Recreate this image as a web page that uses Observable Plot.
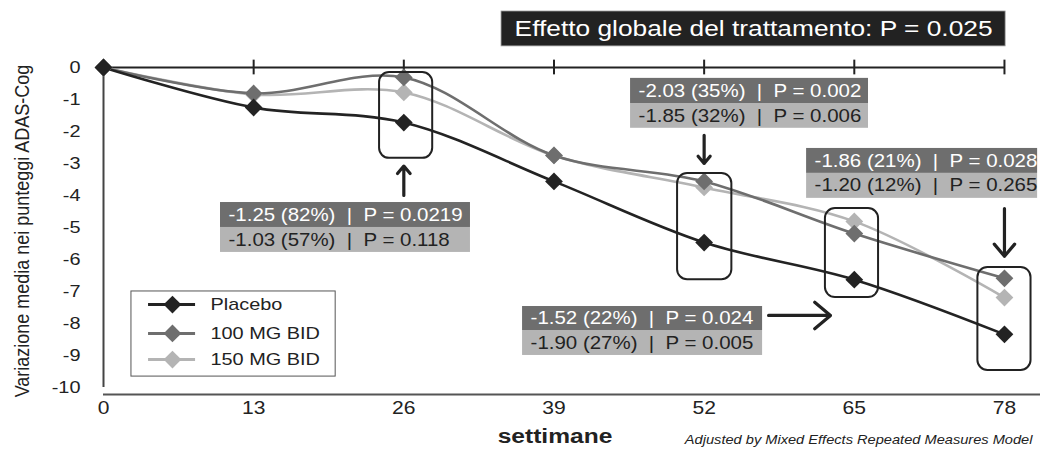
<!DOCTYPE html>
<html>
<head>
<meta charset="utf-8">
<script src="https://cdn.jsdelivr.net/npm/d3@7"></script>
<script src="https://cdn.jsdelivr.net/npm/@observablehq/plot@0.6"></script>
<style>
  html, body { margin: 0; padding: 0; background: #fff; }
  #chart { width: 1043px; height: 452px; }
</style>
</head>
<body>
<div id="chart"></div>
<script>
// ---------- data ----------
const weeks = [0, 13, 26, 39, 52, 65, 78];
const placebo = [0, -1.25, -1.72, -3.56, -5.47, -6.63, -8.34];
const mg100   = [0, -0.81, -0.31, -2.75, -3.56, -5.19, -6.59];
const mg150   = [0, -0.84, -0.78, -2.75, -3.75, -4.81, -7.19];
const seriesNames = ["Placebo", "100 MG BID", "150 MG BID"];
const yTickValues = [0, -1, -2, -3, -4, -5, -6, -7, -8, -9, -10];
const xTickValues = weeks;

const titleText = "Effetto globale del trattamento: P = 0.025";
const yLabelText = "Variazione media nei punteggi ADAS-Cog";
const xLabelText = "settimane";
const captionText = "Adjusted by Mixed Effects Repeated Measures Model";

const SP = "\u00a0";
const annotDark = [
  `-1.25 (82%)${SP}${SP}|${SP}${SP}P = 0.0219`,
  `-2.03 (35%)${SP}${SP}|${SP}${SP}P = 0.002`,
  `-1.86 (21%)${SP}${SP}|${SP}${SP}P = 0.028`,
  `-1.52 (22%)${SP}${SP}|${SP}${SP}P = 0.024`
];
const annotLight = [
  `-1.03 (57%)${SP}${SP}|${SP}${SP}P = 0.118`,
  `-1.85 (32%)${SP}${SP}|${SP}${SP}P = 0.006`,
  `-1.20 (12%)${SP}${SP}|${SP}${SP}P = 0.265`,
  `-1.90 (27%)${SP}${SP}|${SP}${SP}P = 0.005`
];

// ---------- layout (annotation placement, in week / score units) ----------
const colors = ["#232323", "#6e6e6e", "#b4b4b4"];
const xDomain = [0, 81.12];
const yDomain = [-10.22, 0];
const textStretch = 1.17;
const annotLayout = [
  {x1: 10.13, x2: 31.77, yTop: -4.22, yMid: -5.0, yBot: -5.78},
  {x1: 45.63, x2: 66.23, yTop: -0.34, yMid: -1.125, yBot: -1.9},
  {x1: 60.87, x2: 80.87, yTop: -2.53, yMid: -3.31, yBot: -4.09},
  {x1: 36.28, x2: 57.06, yTop: -7.47, yMid: -8.22, yBot: -9.0}
];
const arrows = [
  {x1: 26, y1: -4.0, x2: 26, y2: -3.08},
  {x1: 52, y1: -2.12, x2: 52, y2: -3.0},
  {x1: 78, y1: -4.41, x2: 78, y2: -5.9},
  {x1: 57.58, y1: -7.75, x2: 62.94, y2: -7.75}
];
const highlightBoxes = [
  {x1: 23.9, x2: 28.5, y1: -0.16, y2: -2.84},
  {x1: 49.7, x2: 54.4, y1: -3.31, y2: -6.63},
  {x1: 62.5, x2: 67.1, y1: -4.41, y2: -7.19},
  {x1: 75.7, x2: 80.3, y1: -6.25, y2: -9.47}
];
const legendBox = {x1: 2.42, x2: 20.1, y1: -7.0, y2: -9.66};
const legendRowY = [-7.41, -8.31, -9.13];
const titleBox = {x1: 34.46, x2: 78.1, y1: 1.75, y2: 0.66};

// ---------- build table ----------
const seriesValues = [placebo, mg100, mg150];
const rows = [];
seriesNames.forEach((name, i) => {
  weeks.forEach((w, j) => rows.push({series: name, idx: i, week: w, value: seriesValues[i][j]}));
});
const drawOrder = [2, 1, 0];

const legendRows = seriesNames.map((name, i) => ({name, idx: i, y: legendRowY[i]}));
const annotRows = annotLayout.map((a, i) => ({...a, dark: annotDark[i], light: annotLight[i]}));

const marks = [];
// title box
marks.push(Plot.rect([titleBox], {x1: "x1", x2: "x2", y1: "y1", y2: "y2", fill: "#222", stroke: "#999", strokeWidth: 0.8}));
marks.push(Plot.text([titleText], {x: (titleBox.x1 + titleBox.x2) / 2, y: (titleBox.y1 + titleBox.y2) / 2, fill: "#fff", fontSize: 22.5, textAnchor: "middle"}));

// axes lines
marks.push(Plot.ruleY([0], {x1: 0, x2: 78, stroke: "#222", strokeWidth: 2}));
marks.push(Plot.ruleX(weeks.slice(1), {y1: 0.23, y2: -0.23, stroke: "#222", strokeWidth: 2}));
marks.push(Plot.ruleX([0], {y1: 0, y2: -10, stroke: "#444", strokeWidth: 2}));
marks.push(Plot.ruleY([yDomain[0]], {x1: xDomain[0], x2: xDomain[1], stroke: "#555", strokeWidth: 2}));
marks.push(Plot.axisX(xTickValues, {tickSize: 0, tickPadding: 7, fontSize: 18, fill: "#222", tickFormat: d => String(d)}));
marks.push(Plot.axisY(yTickValues, {tickSize: 0, tickPadding: 23, fontSize: 17, fill: "#222", tickFormat: d => String(d)}));

// annotation boxes
marks.push(Plot.rect(annotRows, {x1: "x1", x2: "x2", y1: "yTop", y2: "yMid", fill: "#6e6e6e"}));
marks.push(Plot.rect(annotRows, {x1: "x1", x2: "x2", y1: "yMid", y2: "yBot", fill: "#b4b4b4"}));
marks.push(Plot.text(annotRows, {x: "x1", y: d => (d.yTop + d.yMid) / 2, text: "dark", textAnchor: "start", dx: 8, fill: "#fff", fontSize: 17.5}));
marks.push(Plot.text(annotRows, {x: "x1", y: d => (d.yMid + d.yBot) / 2, text: "light", textAnchor: "start", dx: 8, fill: "#222", fontSize: 17.5}));
marks.push(Plot.arrow(arrows, {x1: "x1", y1: "y1", x2: "x2", y2: "y2", stroke: "#222", strokeWidth: 3.2, headLength: 13, headAngle: 80}));

// series lines & points
drawOrder.forEach(i => {
  const d = rows.filter(r => r.idx === i);
  marks.push(Plot.line(d, {x: "week", y: "value", stroke: colors[i], strokeWidth: 2.6, curve: "catmull-rom"}));
});
drawOrder.forEach(i => {
  const d = rows.filter(r => r.idx === i);
  marks.push(Plot.dot(d, {x: "week", y: "value", symbol: "diamond2", r: 8, fill: colors[i], stroke: "none"}));
});

// highlight rounded boxes
marks.push(Plot.rect(highlightBoxes, {x1: "x1", x2: "x2", y1: "y1", y2: "y2", fill: "none", stroke: "#222", strokeWidth: 2, rx: 10}));

// legend
marks.push(Plot.rect([legendBox], {x1: "x1", x2: "x2", y1: "y1", y2: "y2", fill: "#fff", stroke: "#555", strokeWidth: 1}));
legendRows.forEach(r => {
  marks.push(Plot.ruleY([r.y], {x1: 3.9, x2: 7.97, stroke: colors[r.idx], strokeWidth: 3}));
  marks.push(Plot.dot([r], {x: 5.97, y: "y", symbol: "diamond2", r: 8, fill: colors[r.idx], stroke: "none"}));
});
marks.push(Plot.text(legendRows, {x: 9.26, y: "y", text: "name", textAnchor: "start", fontSize: 17, fill: "#222"}));

// labels
marks.push(Plot.text([yLabelText], {frameAnchor: "left", textAnchor: "middle", rotate: -90, dx: -81, fontSize: 18, fill: "#222"}));
marks.push(Plot.text([xLabelText], {frameAnchor: "bottom", textAnchor: "middle", dx: -17, dy: 48, fontSize: 21, fontWeight: "bold", fill: "#222"}));
marks.push(Plot.text([captionText], {frameAnchor: "bottom-right", textAnchor: "end", dx: -8, dy: 49, fontSize: 12.5, fontStyle: "italic", fill: "#222"}));

const chart = Plot.plot({
  width: 1043,
  height: 452,
  marginLeft: 103,
  marginRight: 3,
  marginTop: 67,
  marginBottom: 58,
  x: {domain: xDomain},
  y: {domain: yDomain},
  style: {fontFamily: "'Liberation Sans', Arial, sans-serif", background: "#fff", color: "#222", overflow: "visible"},
  marks
});

// the reference typeface is horizontally wide: stretch each text horizontally on screen
chart.querySelectorAll("text").forEach(t => {
  const rotated = t.textContent === yLabelText;
  const sc = rotated ? `scale(1,${textStretch})` : `scale(${textStretch},1)`;
  const tr = t.getAttribute("transform");
  if (tr) {
    t.setAttribute("transform", `${tr} ${sc}`);
  } else {
    const x = +(t.getAttribute("x") || 0), y = +(t.getAttribute("y") || 0);
    t.setAttribute("transform", `translate(${x},${y}) ${sc} translate(${-x},${-y})`);
  }
});
document.getElementById("chart").appendChild(chart);
</script>
</body>
</html>
